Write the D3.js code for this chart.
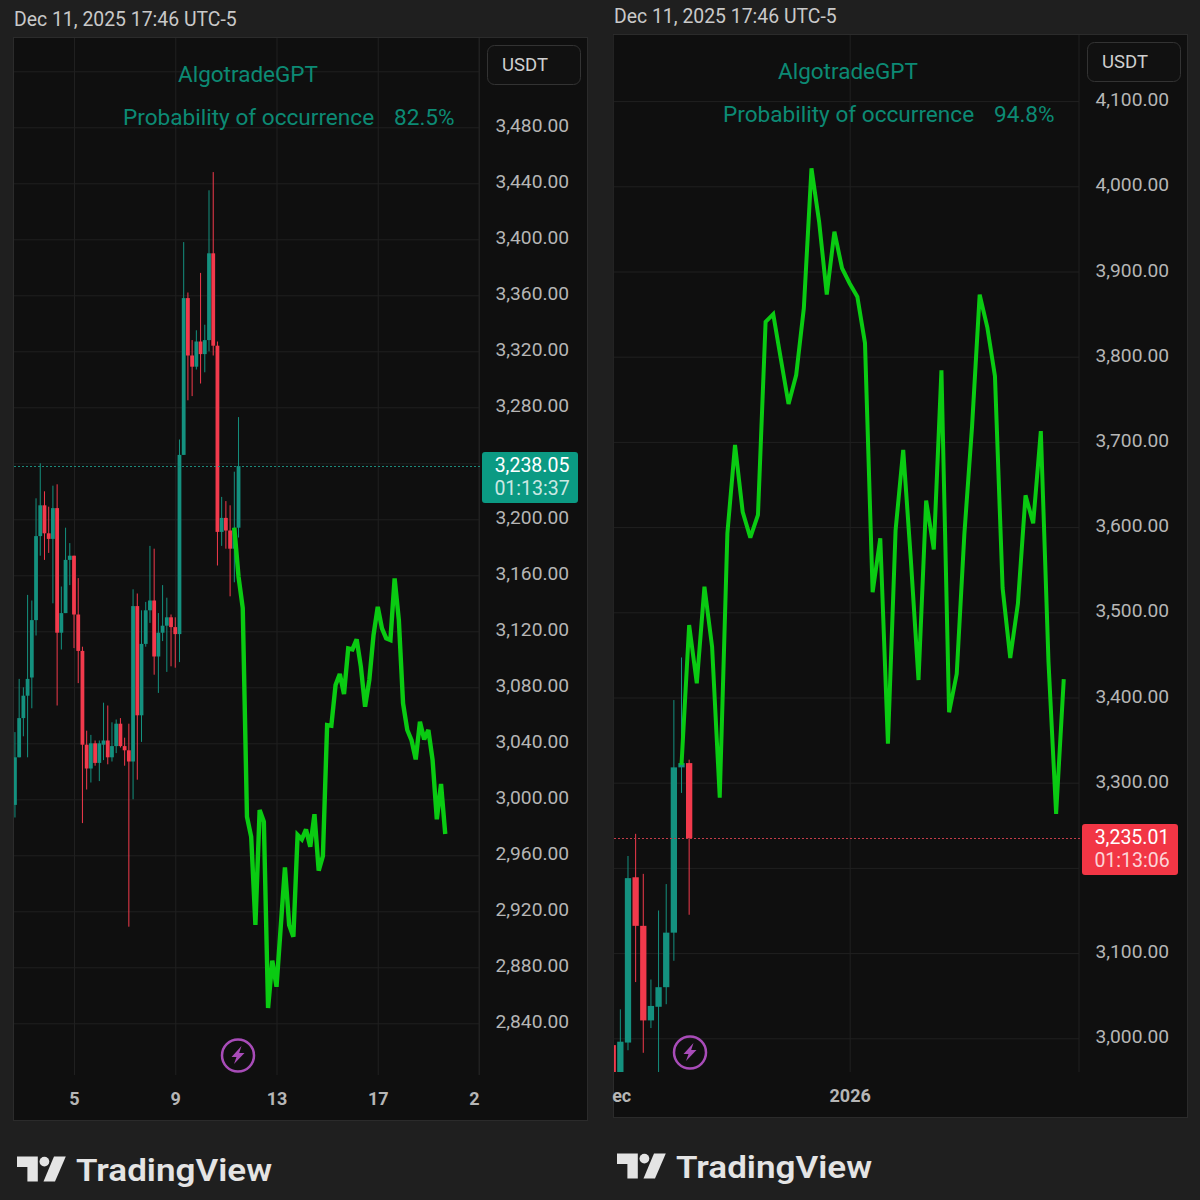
<!DOCTYPE html>
<html><head><meta charset="utf-8">
<script src="https://cdn.jsdelivr.net/npm/d3@7"></script>
<style>
html,body{margin:0;padding:0;background:#1f1f1f}
svg{display:block}
text{font-family:Roboto,sans-serif}
</style></head><body>
<div id="chart"></div>
<script>
// ---- left chart: 4h candles (index 14 = Dec 5 00:00)
const leftOpen =[2996,3030,3058,3074,3087,3128,3188,3210,3190,3186,3208,3119,3133,3171,3174,3132,3106,3039,3022,3040,3026,3039,3042,3030,3038,3054,3038,3035,3027,3138,3060,3111,3135,3142,3102,3119,3124,3130,3123,3118,3246,3358,3317,3309,3327,3318,3328,3390,3324,3191,3201,3192,3179,3194];
const leftHigh =[3048,3086,3080,3146,3142,3215,3240,3220,3209,3224,3225,3152,3194,3183,3174,3158,3109,3049,3046,3042,3042,3069,3067,3055,3057,3058,3044,3054,3150,3147,3135,3141,3181,3179,3133,3153,3144,3132,3130,3257,3398,3362,3328,3335,3376,3339,3435,3448,3327,3216,3213,3210,3234,3273];
const leftLow  =[2987,3030,3045,3030,3065,3117,3174,3171,3176,3140,3067,3107,3133,3153,3108,3083,2983,3007,3012,3024,3013,3028,3025,3027,3033,3037,3024,2909,3000,3014,3041,3109,3126,3089,3076,3113,3091,3095,3094,3098,3246,3285,3288,3307,3297,3305,3320,3317,3167,3181,3179,3145,3155,3187];
const leftClose=[3030,3058,3074,3086,3128,3188,3210,3190,3186,3208,3119,3133,3171,3174,3132,3106,3039,3022,3040,3026,3040,3042,3030,3038,3054,3038,3035,3027,3138,3060,3111,3135,3142,3102,3119,3124,3130,3123,3118,3246,3358,3317,3309,3327,3318,3328,3390,3324,3191,3201,3192,3179,3194,3238.05];
// forecast, first value sits on candle index 52
const leftForecastStart=52;
const leftForecast=[3194,3159,3136.6,2987.5,2973.3,2910.2,2992.3,2984,2850.9,2884.7,2866.1,2908.8,2951.4,2910.2,2901.8,2974.5,2971.4,2978.5,2966.1,2989.3,2949,2959.5,3053,3052.5,3081.6,3089.5,3075.2,3107.8,3107.1,3114.3,3094.7,3066.1,3085.2,3117.3,3137.5,3122.1,3115,3113.8,3157.8,3128,3068.5,3049.5,3042.3,3028.5,3055.4,3042.8,3049.5,3028,2985.7,3010.9,2975.2];
const leftPriceTicks=[2840,2880,2920,2960,3000,3040,3080,3120,3160,3200,3240,3280,3320,3360,3400,3440,3480,3520];
const leftHiddenLabels=[3240,3520];   // covered by the price tag and the unit box
const leftTimeTicks=[14,38,62,86,110];
const leftTimeLabels=["5","9","13","17","2"];
const leftLast=3238.05, leftCountdown="01:13:37", leftProb="82.5%";

// ---- right chart: daily candles (index 0 = Dec 1)
const rightOpen =[2992,2950,2995,3189,3132,3021,3037,3060,3124,3318,3323];
const rightHigh =[2998,3034,3214,3240,3193,3069,3150,3181,3397,3447,3327];
const rightLow  =[2945,2945,2986,3066,2983,3012,2955,3040,3091,3288,3145];
const rightClose=[2950,2996,3188,3132,3021,3038,3060,3124,3318,3323,3235.01];
const rightForecastStart=9;
const rightForecast=[3320.8,3485,3416.7,3530,3459.6,3282.4,3592.7,3696.4,3618,3587.6,3614.2,3841,3850,3797,3744.5,3778.5,3856.8,4021,3958.5,3873,3946.7,3903.8,3886,3870.4,3816,3523.6,3586.9,3345.7,3596.2,3690.7,3561.4,3420.5,3631.2,3573.7,3784,3382.6,3427.8,3592.1,3717.5,3872.8,3834.5,3777,3528.5,3446.4,3510,3637.3,3604.5,3712.6,3442.3,3263.5,3421.7];
const rightPriceTicks=[3000,3100,3200,3300,3400,3500,3600,3700,3800,3900,4000,4100];
const rightHiddenLabels=[3200];
const rightTimeTicks=[0,31];
const rightTimeLabels=["ec","2026"];
const rightLast=3235.01, rightCountdown="01:13:06", rightProb="94.8%";

const dateText="Dec 11, 2025 17:46 UTC-5", brand="AlgotradeGPT", probLabel="Probability of occurrence", unit="USDT";

const TEAL="#14917f", RED="#f23a4c", GREEN="#0acb12", TEXT="#b6b6b6", ACCENT="#0c8a74", GRID="#202020";
const svg=d3.select("#chart").append("svg").attr("width",1200).attr("height",1200);
svg.append("rect").attr("width",1200).attr("height",1200).attr("fill","#1f1f1f");

function panel(c){
  const g=svg.append("g").attr("transform",`translate(${c.dx},${c.dy})`);
  const L=14,R=587,T=38,B=1120,PX=479,TB=1075;   // frame in left-chart coordinates
  const id="clip"+c.dx;
  g.append("clipPath").attr("id",id).append("rect").attr("x",L).attr("y",T).attr("width",PX-L).attr("height",TB-T);
  g.append("text").attr("x",14).attr("y",25.5).attr("font-size",19.4).attr("fill","#c9c9c9").text(dateText);
  g.append("rect").attr("x",L-.5).attr("y",T-.5).attr("width",R-L+1).attr("height",B-T+1)
    .attr("fill","#0f0f0f").attr("stroke","#2b2b2b");

  const x=d3.scaleLinear().domain(c.xDomain).range(c.xRange);
  const y=d3.scaleLinear().domain(c.yDomain).range(c.yRange);

  // grid + time axis
  const xGrid=g.append("g").attr("transform",`translate(0,${TB})`)
    .call(d3.axisBottom(x).tickValues(c.timeTicks).tickSize(-(TB-T)).tickFormat(""));
  xGrid.select(".domain").remove();
  xGrid.selectAll("line").attr("stroke",GRID);
  const yGrid=g.append("g").attr("transform",`translate(${PX},0)`)
    .call(d3.axisLeft(y).tickValues(c.priceTicks).tickSize(PX-L).tickFormat(""));
  yGrid.select(".domain").remove();
  yGrid.selectAll("line").attr("stroke",GRID);
  g.append("line").attr("x1",PX).attr("x2",PX).attr("y1",T).attr("y2",TB).attr("stroke",GRID);

  // candles
  const plot=g.append("g").attr("clip-path",`url(#${id})`);
  const n=d3.range(c.open.length);
  const col=i=>c.close[i]>=c.open[i]?TEAL:RED;
  plot.selectAll("line.w").data(n).join("line").attr("class","w")
    .attr("x1",i=>x(i)).attr("x2",i=>x(i)).attr("y1",i=>y(c.high[i])).attr("y2",i=>y(c.low[i]))
    .attr("stroke",col).attr("stroke-width",c.wick);
  plot.selectAll("rect.b").data(n).join("rect").attr("class","b")
    .attr("x",i=>x(i)-c.body/2).attr("width",c.body)
    .attr("y",i=>y(Math.max(c.open[i],c.close[i])))
    .attr("height",i=>Math.max(1.5,Math.abs(y(c.open[i])-y(c.close[i]))))
    .attr("fill",col);

  // last-price dotted line
  const ly=Math.round(y(c.last))+.5;
  g.append("line").attr("x1",L).attr("x2",PX+3).attr("y1",ly).attr("y2",ly)
    .attr("stroke",c.dotColor).attr("stroke-width",1).attr("stroke-dasharray","2 2");

  // forecast
  const line=d3.line().x((d,i)=>x(c.fStart+i)).y(d=>y(d)).curve(d3.curveLinear);
  g.append("path").attr("d",line(c.forecast)).attr("fill","none").attr("stroke",GREEN)
    .attr("stroke-width",c.lineW).attr("stroke-linejoin","miter").attr("stroke-miterlimit",3);

  // price axis labels
  const yAxis=g.append("g").attr("transform",`translate(${PX},0)`)
    .call(d3.axisRight(y).tickValues(c.priceTicks).tickSize(0).tickPadding(16.5).tickFormat(d3.format(",.2f")));
  yAxis.select(".domain").remove();
  yAxis.selectAll(".tick").filter(d=>c.hiddenLabels.includes(d)).remove();
  yAxis.selectAll("text").attr("font-family","Roboto").attr("font-size",19.2).attr("fill",TEXT).attr("dy",c.labelDy);

  // time axis labels
  const xAxis=g.append("g").attr("transform",`translate(0,${TB})`)
    .call(d3.axisBottom(x).tickValues(c.timeTicks).tickSize(0).tickPadding(17)
      .tickFormat((d,i)=>c.timeLabels[i]));
  xAxis.select(".domain").remove();
  xAxis.selectAll("text").attr("font-family","Roboto").attr("font-size",18).attr("font-weight",700)
    .attr("fill",TEXT).attr("dx",(d,i)=>c.labelDx[i]);

  // title block
  g.append("text").attr("x",178).attr("y",82).attr("font-size",22.5).attr("fill",ACCENT).text(brand);
  g.append("text").attr("x",123).attr("y",125).attr("font-size",22.6).attr("fill",ACCENT).text(probLabel);
  g.append("text").attr("x",394).attr("y",125).attr("font-size",22.6).attr("fill",ACCENT).text(c.prob);

  // unit box
  g.append("rect").attr("x",487.5).attr("y",45.5).attr("width",93).attr("height",39).attr("rx",7)
    .attr("fill","#111").attr("stroke","#333");
  g.append("text").attr("x",502).attr("y",71).attr("font-size",18.5).attr("fill","#cfcfcf").text(unit);

  // last-price tag
  const ty=y(c.last);
  g.append("rect").attr("x",482).attr("y",ty-14).attr("width",96).attr("height",51).attr("rx",3).attr("fill",c.tagColor);
  g.append("text").attr("x",532).attr("y",ty+5.5).attr("text-anchor","middle").attr("font-size",19.5).attr("fill","#fff")
    .text(d3.format(",.2f")(c.last));
  g.append("text").attr("x",532).attr("y",ty+28.5).attr("text-anchor","middle").attr("font-size",19.5).attr("fill","#fff").attr("fill-opacity",.8)
    .text(c.countdown);

  // lightning badge
  const bx=c.badgeX,by=1055.5;
  g.append("circle").attr("cx",bx).attr("cy",by).attr("r",16).attr("fill","none").attr("stroke","#a84cb8").attr("stroke-width",2.5);
  g.append("path").attr("transform",`translate(${bx},${by})`)
    .attr("d","M3.5,-9.5 L-6.5,1.5 L-1.5,1.5 L-4,8.5 L6.5,-2.5 L1.2,-2.5 Z").attr("fill","#a84cb8");

  // TradingView wordmark
  const lg=g.append("g").attr("fill","#e4e4e4");
  lg.append("path").attr("d","M17,1156.5 H37.8 V1181.5 H27.4 V1167 H17 Z");
  lg.append("circle").attr("cx",44.4).attr("cy",1161.6).attr("r",4.9);
  lg.append("path").attr("d","M54,1156.5 H65.8 L55,1181.5 H43.5 Z");
  lg.append("text").attr("x",76).attr("y",1181).attr("font-family","Inter").attr("font-size",32).attr("font-weight",600)
    .attr("textLength",196).attr("lengthAdjust","spacingAndGlyphs").text("TradingView");
}

panel({dx:0,dy:0,badgeX:238,hiddenLabels:leftHiddenLabels,labelDy:"0.2em",
  open:leftOpen,high:leftHigh,low:leftLow,close:leftClose,forecast:leftForecast,fStart:leftForecastStart,
  xDomain:[14,110],xRange:[74,479],
  yDomain:[3440,3200],yRange:[183.3,519.3],
  priceTicks:leftPriceTicks,timeTicks:leftTimeTicks,timeLabels:leftTimeLabels,labelDx:[0,0,0,0,-5],
  last:leftLast,countdown:leftCountdown,prob:leftProb,tagColor:"#0b9a83",dotColor:"#1c8a7b",body:3.8,wick:1,lineW:4.4});

panel({dx:600,dy:-3,badgeX:90,hiddenLabels:rightHiddenLabels,labelDy:"0.24em",
  open:rightOpen,high:rightHigh,low:rightLow,close:rightClose,forecast:rightForecast,fStart:rightForecastStart,
  xDomain:[0,31],xRange:[12.7,249.7],
  yDomain:[3000,4000],yRange:[1041.3,189.3],
  priceTicks:rightPriceTicks,timeTicks:rightTimeTicks,timeLabels:rightTimeLabels,labelDx:[8.5,0],
  last:rightLast,countdown:rightCountdown,prob:rightProb,tagColor:"#f23645",dotColor:"#c23c49",body:6.3,wick:1,lineW:4});
</script>
</body></html>
